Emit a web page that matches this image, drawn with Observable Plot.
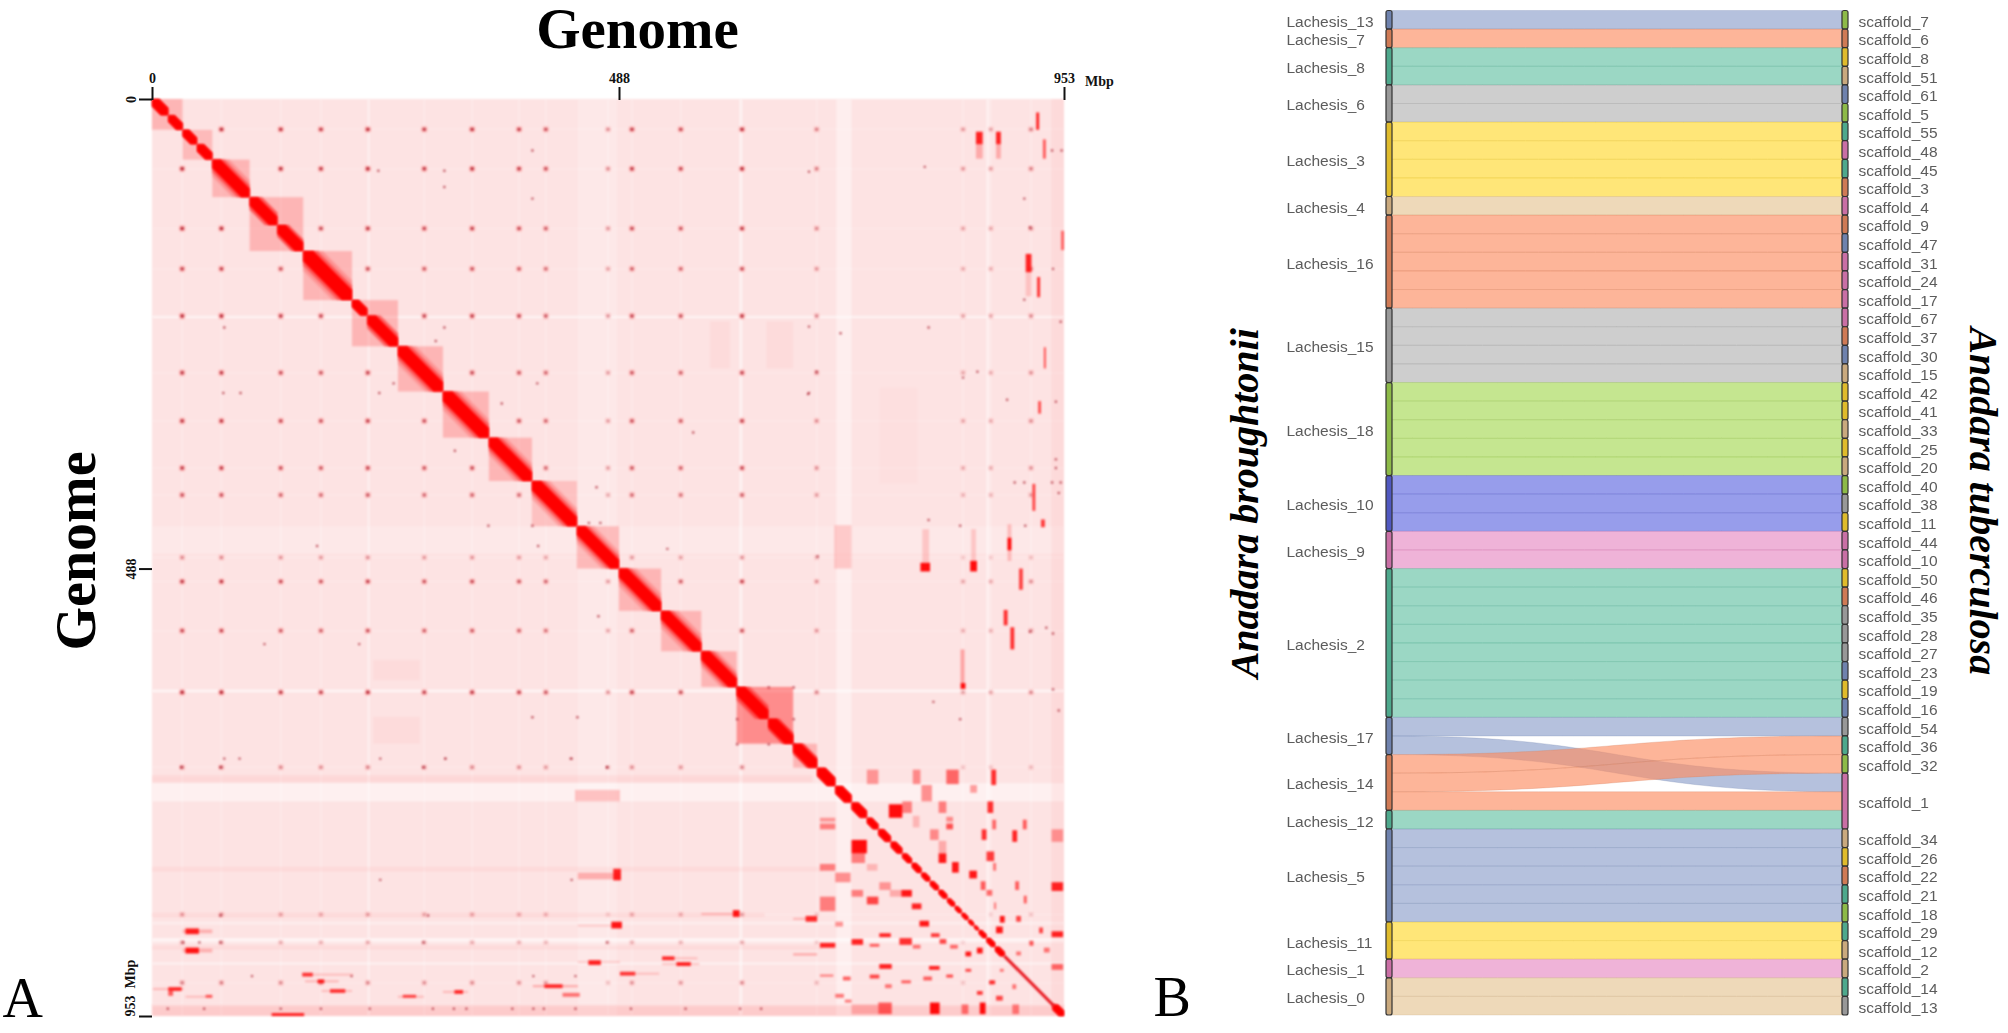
<!DOCTYPE html>
<html>
<head>
<meta charset="utf-8">
<script src="https://cdn.jsdelivr.net/npm/d3@7"></script>
<script src="https://cdn.jsdelivr.net/npm/@observablehq/plot@0.6"></script>
<style>
html,body{margin:0;padding:0;background:#fff;overflow:hidden;width:2008px;height:1033px}
#a,#b{position:absolute;top:0}
#a{left:0}
#b{left:1130px}
svg{display:block;background:transparent}
</style>
</head>
<body>
<div id="a"></div>
<div id="b"></div>
<script>
// ---------- Panel A: Hi-C map, all values in Mbp ----------
const axisTicks = [0, 488, 953];
// chromosome squares [start, end, tint]
const chromosomes = [[0,32,.2],[32,63,.18],[63,102,.2],[102,158,.2],[158,209,.2],[209,257,.2],[257,304,.2],[304,352,.2],[352,397,.2],[397,444,.15],[444,488,.2],[488,532,.2],[532,574,.2],[574,611,.2],[611,670,.38],[670,695,.2]];
// diagonal spans (arms of chromosomes, then the small scaffolds)
const diagonalSpans = [[0,17],[17,32],[32,47],[47,63],[63,102],[102,131],[131,158],[158,209],[209,225],[225,257],[257,304],[304,352],[352,397],[397,444],[444,488],[488,532],[532,574],[574,611],[611,644],[644,670],[670,695],[695,714],[714,731],[731,747],[747,759],[759,772],[772,784],[784,794],[794,804],[804,813],[813,822],[822,831],[831,839],[839,846],[846,853],[853,859],[859,864],[864,872],[872,881],[881,891],[941,953]];
const diagonalTail = [891, 941];
// centromere-like contact positions and their strengths
const centromeres = [31,72,134,176,225,284,334,383,411,476,501,552,616,694,847,876,918];
const centromereStrength = [.85,.85,.75,.7,.8,.7,.75,.7,.6,.35,.7,.65,.8,.4,.3,.28,.4];
// paler stripes [start, end, opacity]
const paleRows = [[711,730,.48],[444,472,.2],[226,227.5,.8],[614,616,.8],[872,876,.6],[855,858,.35],[897,900,.4],[940,943,.4]];
const paleColumns = [[445,486,.2],[715,731,.4],[226,227.5,.5],[614,616,.7],[872,875,.5]];
// slightly darker stripes and blotches [x1,x2,y1,y2,opacity]
const faintPatches = [[0,953,941,953,.1],[940,953,0,953,.04],[0,690,703,710,.05],[231,280,642,670,.03],[231,280,583,604,.03],[642,670,231,280,.03],[583,604,231,280,.03],[760,800,300,400,.015],[0,700,798,803,.04],[0,640,846,850,.05],[0,700,880,884,.04]];
// contact patches [x1,x2,y1,y2,opacity]
const contactPatches = [
 [747,759,697,712,.35],[795,803,697,712,.4],[830,843,697,712,.55],[877,882,697,713,.8],[804,815,713,730,.4],[855,862,713,721,.35],
 [770,784,733,747,.95],[784,794,730,742,.45],[822,830,730,742,.45],[873,879,730,742,.8],[795,802,745,757,.2],[830,837,746,751,.4],[830,837,753,759,.65],
 [878,882,749,759,.55],[813,822,759,770,.4],[867,872,759,770,.8],[899,904,760,772,.85],[822,830,771,784,.25],[822,830,784,794,.9],[836,843,793,804,.9],
 [854,862,802,810,.9],[872,880,782,792,.75],[879,882,794,802,.5],[902,906,813,822,.6],[866,871,813,822,.6],[872,878,822,828,.55],[880,882,835,842,.5],
 [940,952,814,823,.85],[940,952,759,772,.35],[940,952,865,871,.85],[940,952,899,905,.55],[910,914,749,759,.6],[911,914,828,836,.6],[886,891,849,856,.9],
 [882,889,860,867,.9],[903,908,849,855,.7],[927,931,861,867,.7],[917,921,875,880,.6],[903,908,886,890,.5],[932,938,882,887,.5],[850,856,886,891,.9],
 [862,868,882,888,.9],[886,890,904,907,.5],[850,856,904,907,.7],[899,903,920,925,.5],[875,881,916,920,.8],[862,868,927,931,.75],[882,889,932,937,.7],
 [865,871,939,951,.95],[813,823,939,951,.95],[759,773,939,951,.6],[846,853,941,951,.5],[899,906,941,951,.45],[731,759,941,951,.2],
 [698,714,747,751,.35],[698,714,753,759,.45],[731,747,770,784,.95],[731,745,784,794,.45],[698,714,795,802,.45],[714,730,804,814,.4],[747,758,795,802,.2],
 [760,772,814,822,.35],[731,743,822,829,.45],[771,783,822,829,.25],[783,794,822,829,.9],[698,714,829,844,.45],[747,759,829,837,.7],[794,804,836,842,.85],
 [802,812,854,860,.9],[714,722,855,860,.4],[760,772,867,871,.85],[814,823,867,871,.75],[698,714,877,882,.85],[731,743,873,879,.85],[750,760,878,881,.6],
 [781,794,872,879,.8],[795,803,879,883,.5],[823,830,873,878,.7],[834,842,879,883,.55],[760,773,899,904,.85],[812,823,901,905,.85],[830,837,910,913,.7],
 [806,815,912,916,.6],[750,760,910,914,.7],[698,712,910,912,.5],[722,730,912,916,.6],[783,793,916,919,.6],[766,773,920,924,.5],[714,723,930,934,.5],[724,731,936,939,.5],
 // lower-left streaks
 [32,63,863,867,.22],[35,49,862,868,.85],[32,63,883,887,.22],[35,49,882,888,.9],[157,210,909,911,.18],[157,168,908,912,.75],[160,195,916,918,.22],[173,180,915,919,.85],
 [1,33,924,926,.2],[17,31,923,927,.8],[17,22,927,932,.6],[177,209,926,928,.18],[186,202,925,929,.75],[257,284,932,934,.2],[262,276,931,934,.7],[304,330,927,929,.2],[316,325,926,930,.8],
 [125,159,950,953,.85],[35,63,932,934,.18],[56,63,931,934,.6],[398,445,921,923,.28],[410,429,920,924,.8],[429,447,929,933,.5],[445,489,896,898,.15],[456,469,895,900,.85],
 [445,491,858,860,.15],[480,491,855,862,.9],[445,490,804,811,.25],[482,490,800,812,.85],[574,614,846,848,.22],[607,614,843,850,.9],[533,570,892,894,.18],[533,546,891,895,.8],
 [533,572,898,900,.18],[548,563,897,901,.85],[489,530,908,910,.18],[489,505,907,911,.75],[442,489,718,730,.2],[670,695,851,853,.22],[683,695,849,855,.8],[670,695,888,890,.3],
 // upper-right streaks
 [924,927,14,32,.85],[861,868,34,47,.85],[861,868,47,62,.25],[882,887,34,47,.85],[882,887,47,62,.25],[931,934,42,62,.6],[913,919,161,180,.85],[913,919,180,205,.15],[925,928,185,206,.8],
 [932,934,258,280,.65],[926,929,314,327,.65],[920,923,400,428,.7],[894,898,456,469,.95],[894,898,442,480,.2],[929,933,437,445,.75],[906,910,488,510,.7],[890,894,531,547,.8],[897,901,549,572,.8],
 [845,849,572,607,.3],[845,850,607,613,.95],[803,813,482,491,.95],[805,812,447,482,.15],[855,862,480,491,.95],[856,861,447,480,.15],[713,731,443,488,.16],[950,953,137,157,.55]
];
// isolated specks [x, y]
const specks = [
 [172,464],[117,566],[216,566],[75,685],[91,685],[238,685],[306,685],[438,685],[30,694],[71,694],[283,694],[475,694],[238,811],[438,811],[288,848],[71,848],[32,876],[49,876],[71,876],[283,876],[475,876],
 [104,911],[208,911],[398,911],[442,911],[16,945],[54,945],[134,945],[176,945],[227,945],[293,945],[315,945],[328,945],[376,945],[398,945],[409,945],[442,945],[500,945],[557,945],[614,945],[636,945],
 [236,74],[305,74],[397,53],[397,103],[305,91],[305,237],[296,251],[252,295],[402,295],[75,237],[74,305],[92,305],[237,305],[365,316],[316,365],[464,403],[538,467],[466,537],[565,346],[685,306],[695,475],[456,440],[468,440],[403,464],[475,694],[444,642],[306,685],[437,685],[397,642],[351,443],[397,443],
 [719,243],[811,237],[686,75],[686,236],[686,305],[694,283],[807,70],[847,289],[862,283],[911,103],[911,208],[917,133],[950,53],[940,53],[941,176],[949,231],[944,314],[944,374],[944,383],[901,398],[911,398],[940,398],[949,398],[947,409],[912,443],[811,437],[844,443],[893,312],[917,553],[934,549],[941,555],[941,613],[947,635],[816,626],[844,644],
 [611,611],[611,644],[644,611],[670,611],[611,670],[670,644],[644,670],[670,670]
];

// ---------- Panel B: synteny ribbons ----------
const lachesisNames = ["Lachesis_13","Lachesis_7","Lachesis_8","Lachesis_6","Lachesis_3","Lachesis_4","Lachesis_16","Lachesis_15","Lachesis_18","Lachesis_10","Lachesis_9","Lachesis_2","Lachesis_17","Lachesis_14","Lachesis_12","Lachesis_5","Lachesis_11","Lachesis_1","Lachesis_0"];
const lachesisSlots = [1,1,2,2,4,1,5,4,5,3,2,8,2,3,1,5,2,1,2];
const lachesisHue = ["blue","orange","teal","gray","yellow","tan","orange","gray","lime","violet","pink","teal","blue","orange","teal","blue","yellow","pink","tan"];
const scaffoldNames = ["scaffold_7","scaffold_6","scaffold_8","scaffold_51","scaffold_61","scaffold_5","scaffold_55","scaffold_48","scaffold_45","scaffold_3","scaffold_4","scaffold_9","scaffold_47","scaffold_31","scaffold_24","scaffold_17","scaffold_67","scaffold_37","scaffold_30","scaffold_15","scaffold_42","scaffold_41","scaffold_33","scaffold_25","scaffold_20","scaffold_40","scaffold_38","scaffold_11","scaffold_44","scaffold_10","scaffold_50","scaffold_46","scaffold_35","scaffold_28","scaffold_27","scaffold_23","scaffold_19","scaffold_16","scaffold_54","scaffold_36","scaffold_32","scaffold_1","scaffold_34","scaffold_26","scaffold_22","scaffold_21","scaffold_18","scaffold_29","scaffold_12","scaffold_2","scaffold_14","scaffold_13"];
const scaffoldSlots = [1,1,1,1,1,1,1,1,1,1,1,1,1,1,1,1,1,1,1,1,1,1,1,1,1,1,1,1,1,1,1,1,1,1,1,1,1,1,1,1,1,3,1,1,1,1,1,1,1,1,1,1];
const scaffoldHue = ["lime","orange","yellow","tan","blue","lime","teal","pink","teal","orange","pink","orange","blue","pink","pink","pink","pink","orange","blue","tan","yellow","yellow","tan","yellow","tan","lime","gray","yellow","pink","pink","yellow","orange","gray","gray","gray","blue","yellow","blue","gray","teal","lime","pink","tan","yellow","orange","teal","lime","teal","tan","tan","teal","gray"];
// left slot -> right slot where ribbons cross
const crossedSlots = [[39,41],[40,39],[41,40]];
const ribbonColor = {teal:"#66c2a5",orange:"#fc8d62",blue:"#8da0cb",pink:"#e78ac3",lime:"#a6d854",yellow:"#ffd92f",tan:"#e5c494",gray:"#b3b3b3",violet:"#6068e0"};
const barColor = {teal:"#4ea88c",orange:"#cf7a55",blue:"#6f82ad",pink:"#c96fa5",lime:"#8dba48",yellow:"#dfbb2c",tan:"#c9a97e",gray:"#989898",violet:"#5058c0"};

// ---------- derived tables ----------
function band(spans, f, minW) {
  const rows = [];
  spans.forEach(([a, b], id) => {
    const s = b - a, w = Math.min(s * .45, Math.max(s * f, minW));
    for (const x of [a, a + w, b - w, b])
      rows.push({id, x, y1: Math.max(a, x - w), y2: Math.min(b, x + w)});
  });
  return rows;
}
const pairs = [];
centromeres.forEach((a, i) => centromeres.forEach((b, j) => {
  if (i !== j) pairs.push({x: a, y: b, o: Math.min(1, centromereStrength[i] * centromereStrength[j] * 1.5)});
}));
function stack(sizes, names, hues) {
  let at = 0;
  return sizes.map((n, i) => { const r = {name: names[i], hue: hues[i], y1: at, y2: at + n, mid: at + n / 2}; at += n; return r; });
}
const leftGroups = stack(lachesisSlots, lachesisNames, lachesisHue);
const rightGroups = stack(scaffoldSlots, scaffoldNames, scaffoldHue);
const crossed = new Map(crossedSlots);
const links = [];
leftGroups.forEach(g => d3.range(g.y1, g.y2).forEach(s => {
  const r = crossed.has(s) ? crossed.get(s) : s;
  links.push({id: s, hue: g.hue, x: 0, y1: s, y2: s + 1}, {id: s, hue: g.hue, x: 1, y1: r, y2: r + 1});
}));

const serif = "'Liberation Serif','Times New Roman',serif";
const sans = "'Liberation Sans',Arial,sans-serif";
const axisStyle = {fontFamily: serif, fontWeight: "bold", fontSize: 14, fill: "#111", stroke: "#111", strokeWidth: 2, tickSize: 13, tickPadding: 4, label: null};

const heat = Plot.plot({
  width: 1130, height: 1033,
  marginLeft: 152, marginRight: 66, marginTop: 99, marginBottom: 17,
  style: {background: "transparent"},
  x: {domain: [0, 953], axis: null},
  y: {domain: [0, 953], reverse: true, axis: null},
  marks: [
    Plot.rect([0], {x1: 0, x2: 953, y1: 0, y2: 953, fill: "#fde3e3"}),
    Plot.rect(paleRows, {x1: 0, x2: 953, y1: d => d[0], y2: d => d[1], fill: "#fff", fillOpacity: d => d[2]}),
    Plot.rect(paleColumns, {x1: d => d[0], x2: d => d[1], y1: 0, y2: 953, fill: "#fff", fillOpacity: d => d[2]}),
    Plot.ruleX(centromeres, {y1: 0, y2: 953, stroke: "#fff", strokeOpacity: .3, strokeWidth: 1.5}),
    Plot.ruleY(centromeres, {x1: 0, x2: 953, stroke: "#fff", strokeOpacity: .22, strokeWidth: 1.5}),
    Plot.rect(faintPatches, {x1: d => d[0], x2: d => d[1], y1: d => d[2], y2: d => d[3], fill: "#f00", fillOpacity: d => d[4]}),
    Plot.rect(chromosomes, {x1: d => d[0], x2: d => d[1], y1: d => d[0], y2: d => d[1], fill: "#f00", fillOpacity: d => d[2]}),
    Plot.dot(pairs, {x: "x", y: "y", r: 3.4, fill: "#f00", fillOpacity: d => d.o * .2}),
    Plot.dot(pairs, {x: "x", y: "y", r: 1.7, fill: "#b01828", fillOpacity: "o"}),
    Plot.dot(specks, {x: d => d[0], y: d => d[1], r: 1.2, fill: "#a81828", fillOpacity: .75}),
    Plot.rect(contactPatches, {x1: d => d[0], x2: d => d[1], y1: d => d[2], y2: d => d[3], fill: "#f00", fillOpacity: d => d[4]}),
    Plot.areaY(band(diagonalSpans, .4, 18), {x: "x", y1: "y1", y2: "y2", z: "id", fill: "#f00", fillOpacity: .18}),
    Plot.areaY(band(diagonalSpans, .3, 13), {x: "x", y1: "y1", y2: "y2", z: "id", fill: "#f00", fillOpacity: .38}),
    Plot.areaY(band(diagonalSpans, .21, 9), {x: "x", y1: "y1", y2: "y2", z: "id", fill: "#f00"}),
    Plot.line(diagonalTail, {x: d => d, y: d => d, stroke: "#e8141c", strokeWidth: 3}),
    Plot.axisX(axisTicks, {anchor: "top", ...axisStyle}),
    Plot.axisY(axisTicks, {anchor: "left", tickRotate: -90, tickFormat: d => d === 953 ? "" : d, ...axisStyle}),
    Plot.text([0], {x: 953, frameAnchor: "top", dx: 35, dy: -23, text: () => "Mbp", fontFamily: serif, fontWeight: "bold", fontSize: 14, fill: "#111"}),
    Plot.text([0], {y: 953, frameAnchor: "left", dx: -22, text: () => "953  Mbp", rotate: -90, textAnchor: "start", fontFamily: serif, fontWeight: "bold", fontSize: 14, fill: "#111"}),
    Plot.text(["Genome"], {frameAnchor: "top", dx: 29, dy: -92, lineAnchor: "top", text: d => d, fontFamily: serif, fontWeight: "bold", fontSize: 57, fill: "#000"}),
    Plot.text(["Genome"], {frameAnchor: "left", dx: -75, dy: -7, rotate: -90, textAnchor: "middle", text: d => d, fontFamily: serif, fontWeight: "bold", fontSize: 56, fill: "#000"}),
    Plot.text(["A"], {frameAnchor: "bottom-left", dx: -150, dy: 0, lineAnchor: "bottom", textAnchor: "start", text: d => d, fontFamily: serif, fontSize: 56, fill: "#000"})
  ]
});
d3.select(heat).selectAll('g[aria-label="rect"],g[aria-label="dot"],g[aria-label="area"],g[aria-label="line"],g[aria-label="rule"]').style("filter", "blur(1.1px)");
document.getElementById("a").append(heat);

const ribbonLabel = {fontFamily: sans, fontSize: 15.5, fill: "#5c5c5c", textAnchor: "start", dy: 1.5};
const bars = {stroke: "#333", strokeWidth: 1.2, rx: 2};
const sankey = Plot.plot({
  width: 878, height: 1033,
  marginLeft: 262, marginRight: 166, marginTop: 10.5, marginBottom: 18,
  style: {background: "transparent"},
  x: {domain: [0, 1], axis: null},
  y: {domain: [0, 54], reverse: true, axis: null},
  marks: [
    Plot.areaY(links, {x: "x", y1: "y1", y2: "y2", z: "id", curve: "bump-x", fill: d => ribbonColor[d.hue], fillOpacity: .65, stroke: d => barColor[d.hue], strokeOpacity: .32, strokeWidth: .8}),
    Plot.rect(leftGroups, {x1: 0, x2: 0, y1: "y1", y2: "y2", insetLeft: -6, fill: d => barColor[d.hue], ...bars}),
    Plot.rect(rightGroups, {x1: 1, x2: 1, y1: "y1", y2: "y2", insetRight: -6, fill: d => barColor[d.hue], ...bars}),
    Plot.text(leftGroups, {x: 0, y: "mid", dx: -106, text: "name", ...ribbonLabel}),
    Plot.text(rightGroups, {x: 1, y: "mid", dx: 16, text: "name", ...ribbonLabel}),
    Plot.text(["Anadara broughtonii"], {frameAnchor: "left", dx: -147, dy: -10, rotate: -90, textAnchor: "middle", text: d => d, fontFamily: serif, fontWeight: "bold", fontStyle: "italic", fontSize: 40, fill: "#000"}),
    Plot.text(["Anadara tuberculosa"], {frameAnchor: "right", dx: 140, dy: -12, rotate: 90, textAnchor: "middle", text: d => d, fontFamily: serif, fontWeight: "bold", fontStyle: "italic", fontSize: 40, fill: "#000"}),
    Plot.text(["B"], {frameAnchor: "bottom-left", dx: -239, dy: 0, lineAnchor: "bottom", textAnchor: "start", text: d => d, fontFamily: serif, fontSize: 56, fill: "#000"})
  ]
});
d3.select(sankey).selectAll('g[aria-label="area"]').style("filter", "blur(0.5px)");
const textGroups = sankey.querySelectorAll('g[aria-label="text"]');
[textGroups[0], textGroups[1]].forEach(g => { g.style.filter = "blur(0.5px)"; });
document.getElementById("b").append(sankey);
</script>
</body>
</html>
